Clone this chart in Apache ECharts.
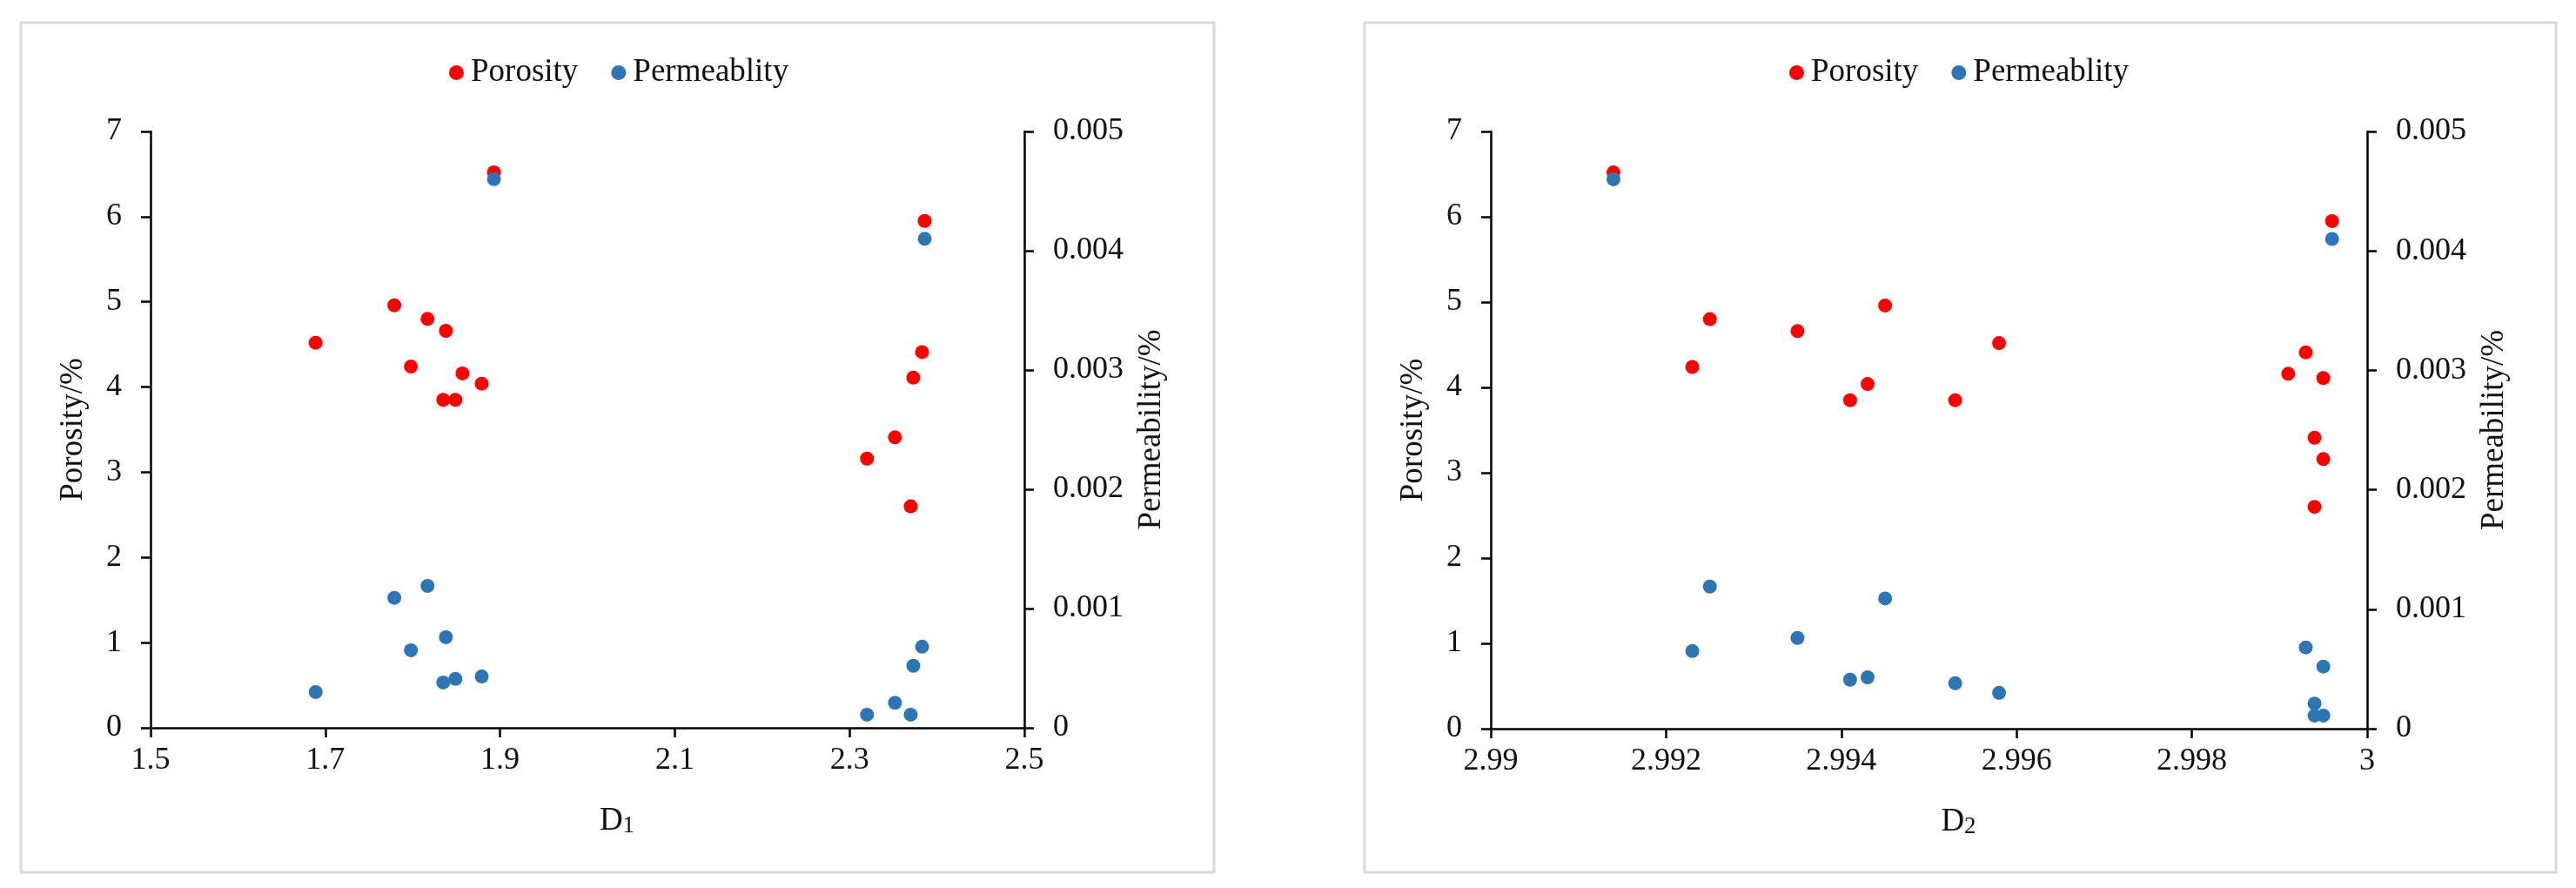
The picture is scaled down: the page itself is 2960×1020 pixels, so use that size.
<!DOCTYPE html>
<html>
<head>
<meta charset="utf-8">
<title>Porosity and permeability vs D1 / D2</title>
<script src="https://cdn.jsdelivr.net/npm/echarts@6/dist/echarts.min.js"></script>
<style>
  html, body { margin: 0; padding: 0; background: #fff; }
  #chart { width: 2960px; height: 1020px; }
</style>
</head>
<body>
<div id="chart"></div>
<script>
// samples (same order in every array)
const d1 = [1.893, 1.779, 1.817, 1.838, 1.689, 1.798, 1.857, 1.879, 1.835, 1.849, 2.386, 2.383, 2.373, 2.352, 2.320, 2.370];
const d2 = [2.9914, 2.9945, 2.9925, 2.9935, 2.9958, 2.9923, 2.9991, 2.9943, 2.9953, 2.9941, 2.9996, 2.9993, 2.9995, 2.9994, 2.9995, 2.9994];
const porosity = [6.52, 4.96, 4.80, 4.66, 4.52, 4.24, 4.16, 4.04, 3.85, 3.85, 5.95, 4.41, 4.11, 3.41, 3.16, 2.60];
const permeability = [0.0046, 0.00109, 0.00119, 0.00076, 0.0003, 0.00065, null, 0.00043, 0.00038, 0.00041, 0.0041, 0.00068, 0.00052, 0.00021, 0.00011, 0.00011];

// tick labels
const d1Ticks = [1.5, 1.7, 1.9, 2.1, 2.3, 2.5];
const d2Ticks = [2.99, 2.992, 2.994, 2.996, 2.998, 3];

const seriesNames = ["Porosity", "Permeablity"];
const colors = ["#FF0000", "#2E75B6"];

const FONT = "'Liberation Serif', 'Times New Roman', serif";
const TXT = "#111";

function pairs(xs, ys) {
  const out = [];
  for (let i = 0; i < xs.length; i++) {
    if (ys[i] != null) out.push([xs[i], ys[i]]);
  }
  return out;
}

function xAxisOf(gridIndex, ticks, sub) {
  return {
    type: "value",
    gridIndex: gridIndex,
    min: ticks[0],
    max: ticks[ticks.length - 1],
    name: "{a|D}{b|" + sub + "}",
    nameLocation: "middle",
    nameGap: 86,
    nameTextStyle: {
      padding: [0, 0, 0, 68],
      rich: {
        a: { fontFamily: FONT, fontSize: 37, color: TXT, verticalAlign: "bottom", lineHeight: 40 },
        b: { fontFamily: FONT, fontSize: 27, color: TXT, verticalAlign: "bottom", lineHeight: 40 },
      },
    },
    axisLine: { onZero: false, lineStyle: { color: "#000", width: 2.5 } },
    axisTick: { show: true, length: 11, lineStyle: { color: "#000", width: 2.5 }, customValues: ticks },
    axisLabel: { fontFamily: FONT, fontSize: 36, color: TXT, margin: 20, customValues: ticks },
    splitLine: { show: false },
  };
}

function yAxisOf(gridIndex, pos, max, step, name, gap) {
  return {
    type: "value",
    gridIndex: gridIndex,
    position: pos,
    min: 0,
    max: max,
    interval: step,
    name: name,
    nameLocation: "middle",
    nameGap: gap,
    nameTextStyle: { fontFamily: FONT, fontSize: 37, color: TXT },
    axisLine: { show: true, onZero: false, lineStyle: { color: "#000", width: 2.5 } },
    axisTick: { show: true, length: 11, lineStyle: { color: "#000", width: 2.5 } },
    axisLabel: { fontFamily: FONT, fontSize: 36, color: TXT, margin: 33 },
    splitLine: { show: false },
  };
}

function legendOf(left) {
  return {
    left: left,
    top: 60,
    icon: "circle",
    itemWidth: 17,
    itemHeight: 17,
    itemGap: 38,
    data: seriesNames,
    textStyle: { fontFamily: FONT, fontSize: 37, color: TXT, padding: [0, 0, 0, 3] },
  };
}

function scatter(name, xi, yi, xs, ys, color) {
  return {
    name: name,
    type: "scatter",
    xAxisIndex: xi,
    yAxisIndex: yi,
    symbol: "circle",
    symbolSize: 16,
    itemStyle: { color: color, opacity: 1 },
    data: pairs(xs, ys),
  };
}

var myChart = echarts.init(document.getElementById("chart"), null, { renderer: "canvas" });

var option = {
  animation: false,
  backgroundColor: "#fff",
  color: colors,
  graphic: [
    { type: "rect", shape: { x: 24, y: 26, width: 1371, height: 976 }, style: { fill: "none", stroke: "#D9D9D9", lineWidth: 3 }, silent: true },
    { type: "rect", shape: { x: 1568, y: 26, width: 1369, height: 976 }, style: { fill: "none", stroke: "#D9D9D9", lineWidth: 3 }, silent: true },
  ],
  legend: [legendOf(511), legendOf(2051)],
  grid: [
    { left: 173, top: 151, width: 1004, height: 685 },
    { left: 1713, top: 151, width: 1007, height: 686 },
  ],
  xAxis: [xAxisOf(0, d1Ticks, "1"), xAxisOf(1, d2Ticks, "2")],
  yAxis: [
    yAxisOf(0, "left", 7, 1, "Porosity/%", 70),
    yAxisOf(0, "right", 0.005, 0.001, "Permeability/%", 128),
    yAxisOf(1, "left", 7, 1, "Porosity/%", 70),
    yAxisOf(1, "right", 0.005, 0.001, "Permeability/%", 128),
  ],
  series: [
    scatter(seriesNames[0], 0, 0, d1, porosity, colors[0]),
    scatter(seriesNames[1], 0, 1, d1, permeability, colors[1]),
    scatter(seriesNames[0], 1, 2, d2, porosity, colors[0]),
    scatter(seriesNames[1], 1, 3, d2, permeability, colors[1]),
  ],
};

myChart.setOption(option);
</script>
</body>
</html>
